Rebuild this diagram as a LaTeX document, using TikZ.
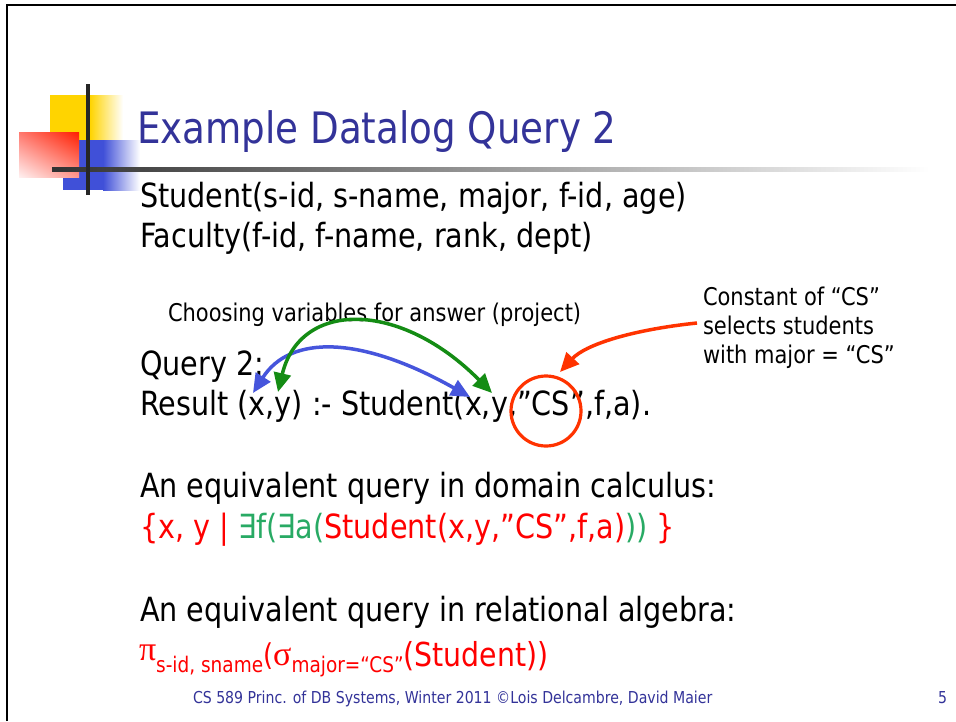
\documentclass[tikz,border=0pt]{standalone}
\usepackage{fontspec}
\setmainfont{DejaVu Sans}[FakeStretch=0.86]
\newfontfamily\symf{Liberation Serif}
\usetikzlibrary{arrows.meta,shadings}
\definecolor{titleblue}{RGB}{51,51,153}
\definecolor{dred}{RGB}{255,0,0}
\definecolor{dgreen}{RGB}{40,170,100}
\definecolor{ored}{RGB}{255,51,0}
\definecolor{ablue}{RGB}{70,85,220}
\definecolor{agreen}{RGB}{20,140,20}
\definecolor{lgold}{RGB}{255,212,0}
\definecolor{lblue}{RGB}{64,80,216}
\definecolor{lred}{RGB}{255,30,0}
\definecolor{lredul}{RGB}{255,120,110}
\definecolor{lredlr}{RGB}{255,150,140}
\definecolor{lredll}{RGB}{255,240,240}
\definecolor{lgray}{RGB}{50,50,50}
\newcommand{\fsz}[1]{\fontsize{#1}{#1}\selectfont}
\tikzset{
  txt/.style={anchor=base west, inner sep=0pt, outer sep=0pt},
  body/.style={txt, font=\fsz{33.3}},
  note/.style={txt, font=\fsz{24.4}},
  arr/.style={line width=3.5pt, {Triangle[length=19pt,width=17pt]}-{Triangle[length=19pt,width=17pt]}},
  sarr/.style={line width=3.5pt, -{Triangle[length=19pt,width=17pt]}},
}
\begin{document}
\begin{tikzpicture}[x=1pt,y=-1pt]
\useasboundingbox (0,0) rectangle (956,721);
\fill[white] (0,0) rectangle (956,721);
% frame
\draw[line width=2.2pt] (7,721) -- (7,5) -- (956,5);
% logo
\fill[lgold] (50,95) rectangle (90,140);
\shade[left color=lgold, right color=white] (90,95) rectangle (123,140);
\fill[lblue] (63,140) rectangle (103,190);
\shade[left color=lblue, right color=white] (103,140) rectangle (140,190);
\shade[upper right=lred, upper left=lredul, lower right=lredlr, lower left=lredll]
  (19,132) rectangle (79,177);
\shade[left color=lgray, right color=white] (52,167.3) rectangle (930,171);
\fill[black!85] (86,84) rectangle (90,195);
% title
\node[txt, font=\fsz{43.3}, text=titleblue] (title) at (137,143) {Example Datalog Query 2};
% schema
\node[body] (student) at (140,207) {Student(s-id, s-name, major, f-id, age)};
\node[body] (faculty) at (140,247) {Faculty(f-id, f-name, rank, dept)};
% notes
\node[note] (choosing) at (168,321) {Choosing variables for answer (project)};
\node[note] (const1) at (703,305) {Constant of “CS”};
\node[note] (const2) at (703,334) {selects students};
\node[note] (const3) at (703,363) {with major = “CS”};
% query
\node[body] (query) at (140,375) {Query 2:};
\node[body] (result) at (140,415) {Result (x,y) :- Student(x,y,”CS”,f,a).};
% domain calculus
\node[body] (domhead) at (140,497) {An equivalent query in domain calculus:};
\node[body] (domcalc) at (140,538) {\textcolor{dred}{\{x, y | }\textcolor{dgreen}{∃f(∃a(}\textcolor{dred}{Student(x,y,”CS”,f,a)}\textcolor{dgreen}{))}\textcolor{dred}{\ \}}};
% relational algebra
\node[body] (relhead) at (140,621) {An equivalent query in relational algebra:};
\node[txt, text=dred] (relalg) at (139,666) {\raisebox{6pt}{\symf\fsz{34}π}\raisebox{-6pt}{\fsz{21.5}s-id, sname}\raisebox{1pt}{\fsz{30}(}\raisebox{1pt}{\symf\fsz{34}σ}\raisebox{-6pt}{\fsz{21.5}major=“CS”}{\fsz{33}(Student))}};
% footer
\node[txt, font=\fsz{16.4}, text=titleblue] (footer) at (193,703) {CS 589 Princ. of DB Systems, Winter 2011 ©Lois Delcambre, David Maier};
\node[txt, font=\fsz{16.4}, text=titleblue] (pagenum) at (938,703) {5};
% annotation marks
\coordinate (bl) at (253,393);
\coordinate (br) at (470,397);
\coordinate (gl) at (278,392);
\coordinate (gr) at (492,393);
\coordinate (rs) at (697,323);
\coordinate (rt) at (560,372);
\node[circle, draw=ored, line width=3.2pt, minimum size=70pt, inner sep=0pt] (cs) at (546,411) {};
\draw[arr, ablue] (bl) .. controls (290,335) and (360,335) .. (br);
\draw[arr, agreen] (gl) .. controls (300,300) and (400,300) .. (gr);
\draw[sarr, ored] (rs) .. controls (630,330) and (585,345) .. (rt);
\end{tikzpicture}
\end{document}
